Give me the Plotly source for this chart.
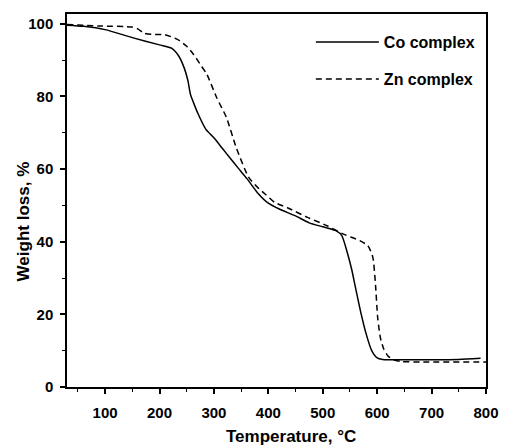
import plotly.graph_objects as go

co_temp = [30, 60, 100, 150, 200, 222, 235, 245, 252, 257, 262, 270, 285, 300, 315, 330, 345, 360, 380, 400,
           420, 450, 475, 500, 525, 535, 544, 553, 560, 570, 580, 590, 600, 610, 650, 700, 750, 790]
co_weight = [99.6, 99.3, 98.4, 96.2, 94.2, 93.3, 91.2, 88.0, 84.5, 80.5, 78.5, 75.5, 71.0, 68.6, 65.8, 63.0, 60.2, 57.5, 53.5, 50.6,
             49.0, 47.1, 45.2, 44.1, 43.0, 41.7, 37.6, 32.5, 27.5, 20.5, 14.5, 10.0, 8.0, 7.6, 7.5, 7.5, 7.6, 7.9]

zn_temp = [30, 90, 150, 160, 172, 185, 210, 233, 250, 263, 275, 287, 305, 323, 341, 364, 380, 395, 412, 436,
           472, 508, 538, 568, 583, 592, 597, 601, 606, 612, 620, 630, 645, 680, 800]
zn_weight = [99.8, 99.4, 99.1, 98.6, 97.4, 97.1, 97.0, 95.7, 93.8, 91.5, 88.8, 86.1, 79.7, 74.2, 65.9, 57.7, 55.0, 53.0, 50.8, 49.3,
             46.7, 44.4, 42.1, 40.3, 38.9, 35.7, 28.0, 19.0, 13.5, 10.5, 8.5, 7.5, 7.0, 6.9, 6.9]

series_names = ["Co complex", "Zn complex"]
x_title = "Temperature, °C"
y_title = "Weight loss, %"

FONT = "Liberation Sans, Arial, sans-serif"

fig = go.Figure()
fig.add_trace(go.Scatter(x=co_temp, y=co_weight, mode="lines", name=series_names[0],
                         legendgroup="a", line=dict(color="black", width=1.5, shape="spline", smoothing=0.6)))
fig.add_trace(go.Scatter(x=zn_temp, y=zn_weight, mode="lines", name=series_names[1],
                         legendgroup="b", line=dict(color="black", width=1.5, dash="6px,4px", shape="spline", smoothing=0.6)))

axis_common = dict(
    showline=True, linecolor="black", linewidth=1.5, mirror=True,
    ticks="outside", ticklen=5, tickwidth=1.5, tickcolor="black",
    showgrid=False, zeroline=False,
    tickfont=dict(family=FONT, size=15, color="black", weight="bold"),
)

fig.update_xaxes(range=[30, 800], tick0=0, dtick=100, ticklabelstandoff=6,
                 minor=dict(ticks="outside", ticklen=3, dtick=50, tickcolor="black", tickwidth=1.2),
                 **axis_common)
fig.update_yaxes(range=[0, 102.7], tick0=0, dtick=20, ticklabelstandoff=4,
                 minor=dict(ticks="outside", ticklen=3, dtick=10, tickcolor="black", tickwidth=1.2),
                 **axis_common)

fig.add_annotation(text=x_title, xref="paper", yref="paper", x=0.534, y=-0.134,
                   showarrow=False, xanchor="center", yanchor="middle",
                   font=dict(family=FONT, size=17, color="black", weight="bold"))
fig.add_annotation(text=y_title, xref="paper", yref="paper", x=-0.105, y=0.444, textangle=-90,
                   showarrow=False, xanchor="center", yanchor="middle",
                   font=dict(family=FONT, size=17, color="black", weight="bold"))

fig.update_layout(
    width=511, height=445,
    margin=dict(l=67, r=15, t=13, b=58),
    plot_bgcolor="white", paper_bgcolor="white",
    showlegend=True,
    legend=dict(x=0.582, y=0.97, xanchor="left", yanchor="top", bgcolor="rgba(0,0,0,0)",
                itemwidth=63, tracegroupgap=13,
                font=dict(family=FONT, size=16, color="black", weight="bold")),
)

fig.write_html("out.html", config={"displayModeBar": False},
               post_script="document.body.style.margin='0';document.body.style.padding='0';")
